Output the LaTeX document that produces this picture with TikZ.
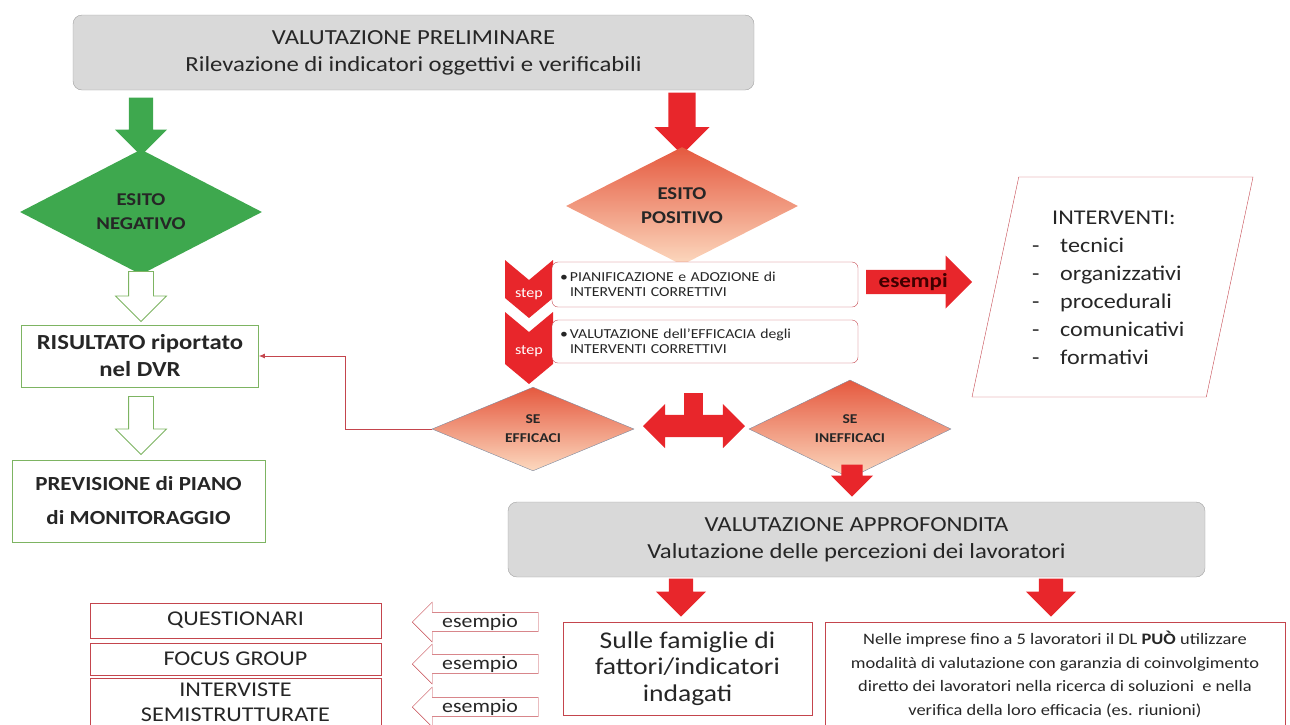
\documentclass[tikz,border=0pt]{standalone}
\usepackage{fontspec}
\setmainfont{Carlito}[FakeStretch=1.15]
\usepackage{tikz}
\usetikzlibrary{shapes.geometric,shapes.arrows,arrows.meta,positioning}
\definecolor{flowred}{HTML}{E8262B}
\definecolor{flowgreen}{HTML}{3EA84E}
\definecolor{boxgray}{HTML}{D9D9D9}
\definecolor{edgegray}{HTML}{A0A0A0}
\definecolor{edgeblue}{HTML}{7C8AA0}
\definecolor{edgered}{HTML}{C4454D}
\definecolor{edgegreen}{HTML}{7DB462}
\definecolor{coral}{HTML}{E5593F}
\definecolor{peach}{HTML}{FCD9BF}
\definecolor{darktext}{HTML}{262626}
\newcommand\fsz[2]{\fontsize{#1}{#2}\selectfont}

\begin{document}
\begin{tikzpicture}[x=1pt,y=-1pt,
  every node/.style={text=darktext},
  graybox/.style={draw=edgegray,fill=boxgray,rounded corners=9pt,align=center,font=\fsz{21.5}{27}},
  downarrow/.style={single arrow,shape border rotate=270,draw=none,fill=#1,anchor=tip},
  hollowarrow/.style={single arrow,shape border rotate=270,draw=edgegreen,fill=white,inner sep=12pt,anchor=tip,line width=0.8pt,minimum width=50pt,single arrow head extend=13pt},
  choice/.style={diamond,inner sep=0pt,align=center,font=\bfseries\fsz{18}{24}},
  shadedchoice/.style={choice,top color=coral,bottom color=peach},
  greenbox/.style={draw=edgegreen,line width=0.8pt,align=center,font=\bfseries\fsz{21.5}{27}},
  redbox/.style={draw=edgered,line width=0.8pt,align=center},
  steplabel/.style={text=white,font=\fsz{14}{14}},
  stepbox/.style={draw=edgered,rounded corners=6pt,fill=white,text width=290pt,align=left,minimum width=306pt,inner xsep=8pt,font=\fsz{13.7}{15}},
  examplearrow/.style={single arrow,shape border rotate=180,draw=edgered,fill=white,anchor=tip,minimum width=40pt,minimum height=126pt,single arrow head extend=10pt,inner sep=1pt,font=\fsz{19}{19}},
]
\useasboundingbox (0,0) rectangle (1290,724);

\node[graybox,minimum width=681pt,minimum height=75pt] (prelim) at (413.5,52.5) {VALUTAZIONE PRELIMINARE\\Rilevazione di indicatori oggettivi e verificabili};

\node[downarrow=flowgreen,inner sep=12pt,minimum height=58pt,minimum width=52pt,single arrow head extend=14pt] (garrow) at (141,156) {};
\node[choice,fill=flowgreen,minimum width=242pt,minimum height=108pt] (negativo) at (141,212) {ESITO\\NEGATIVO};
\node[hollowarrow,minimum height=50pt] (harrow1) at (141,322) {};
\node[greenbox,minimum width=237pt,minimum height=62pt] (risultato) at (140,356) {RISULTATO riportato\\nel DVR};
\node[hollowarrow,minimum height=58pt] (harrow2) at (141,455) {};
\node[greenbox,minimum width=253pt,minimum height=82pt,font=\bfseries\fsz{20}{34}] (previsione) at (138.5,501) {PREVISIONE di PIANO\\di MONITORAGGIO};

\node[downarrow=flowred,inner sep=13.5pt,minimum height=62pt,minimum width=55pt,single arrow head extend=14pt] (rarrow) at (682,155) {};
\node[shadedchoice,minimum width=232pt,minimum height=98pt] (positivo) at (682,206) {ESITO\\POSITIVO};

\foreach \top/\bot/\ylab [count=\i] in {260/298/294, 312/364/351}{
  \fill[flowred] (505,\top) -- (529,\top+20) -- (553,\top) -- (553,\bot) -- (529,\bot+20) -- (505,\bot) -- cycle;
  \node[steplabel] (step\i) at (529,\ylab) {step};
}
\node[stepbox,minimum height=45pt] (plan) at (705,284.5) {\makebox[10pt][l]{\textbullet}PIANIFICAZIONE e ADOZIONE di\\\hspace*{10pt}INTERVENTI CORRETTIVI};
\node[stepbox,minimum height=43pt] (verify) at (705,341.5) {\makebox[10pt][l]{\textbullet}VALUTAZIONE dell’EFFICACIA degli\\\hspace*{10pt}INTERVENTI CORRETTIVI};

\node[single arrow,fill=flowred,minimum height=106pt,minimum width=53pt,single arrow head extend=13pt,inner sep=2pt,font=\bfseries\fsz{20}{20},text=black!75!red,anchor=tail] (esempi) at (866,282) {esempi};
\node[trapezium,trapezium left angle=76,trapezium right angle=104,trapezium stretches=true,draw=edgered,minimum width=281pt,minimum height=220pt] (interventi) at (1112.5,287) {};
\node[align=left,inner sep=0pt,anchor=west,font=\fsz{21}{28}] (tipi) at (1032,288) {\hspace*{20pt}INTERVENTI:\\\makebox[28pt][l]{-}tecnici\\\makebox[28pt][l]{-}organizzativi\\\makebox[28pt][l]{-}procedurali\\\makebox[28pt][l]{-}comunicativi\\\makebox[28pt][l]{-}formativi};

\node[shadedchoice,draw=edgeblue,minimum width=202pt,minimum height=74pt,font=\bfseries\fsz{13.5}{19}] (efficaci) at (533,429) {SE\\EFFICACI};
\node[shadedchoice,draw=edgeblue,minimum width=202pt,minimum height=74pt,font=\bfseries\fsz{13.5}{19}] (inefficaci) at (850,429) {SE\\INEFFICACI};
\node[double arrow,fill=flowred,inner sep=11pt,minimum height=102pt,minimum width=44pt,double arrow head extend=11pt] (bivio) at (694,426) {};
\node[fill=flowred,minimum width=19pt,minimum height=26pt,inner sep=0pt] (stem) at (693.5,406) {};
\draw[edgered,line width=0.8pt,-{Latex[length=6pt,width=5pt]}] (efficaci.west) -- ++(-86,0) |- (risultato.east);

\node[downarrow=flowred,inner sep=10.5pt,minimum height=32pt,minimum width=42pt,single arrow head extend=10.5pt] (rarrow2) at (852,497) {};
\node[graybox,minimum width=697pt,minimum height=75pt] (approf) at (856.5,539.5) {VALUTAZIONE APPROFONDITA\\Valutazione delle percezioni dei lavoratori};
\node[downarrow=flowred,inner sep=12pt,minimum height=38pt,minimum width=50pt,single arrow head extend=13pt] (rarrow3) at (681,617) {};
\node[downarrow=flowred,inner sep=12pt,minimum height=38pt,minimum width=50pt,single arrow head extend=13pt] (rarrow4) at (1051,617) {};

\node[redbox,minimum width=249pt,minimum height=93pt,font=\fsz{24}{26.5}] (famiglie) at (687.5,668.5) {Sulle famiglie di\\fattori/indicatori\\indagati};
\node[redbox,minimum width=460pt,minimum height=104pt,font=\fsz{16}{23.5},anchor=north] (imprese) at (1055,622) {Nelle imprese fino a 5 lavoratori il DL \textbf{PUÒ} utilizzare\\modalità di valutazione con garanzia di coinvolgimento\\diretto dei lavoratori nella ricerca di soluzioni\ \ e nella\\verifica della loro efficacia (es. riunioni)};

\foreach \nome/\ypos/\alto/\testo in {quest/620.5/35/QUESTIONARI,focus/659/32/FOCUS GROUP,interv/702/48/{INTERVISTE\\SEMISTRUTTURATE}}
  \node[redbox,minimum width=291pt,minimum height=\alto pt,font=\fsz{21}{25}] (\nome) at (235.5,\ypos) {\testo};
\foreach \ypos [count=\i] in {622,664,707}
  \node[examplearrow] (esempio\i) at (412,\ypos) {esempio};
\end{tikzpicture}
\end{document}
